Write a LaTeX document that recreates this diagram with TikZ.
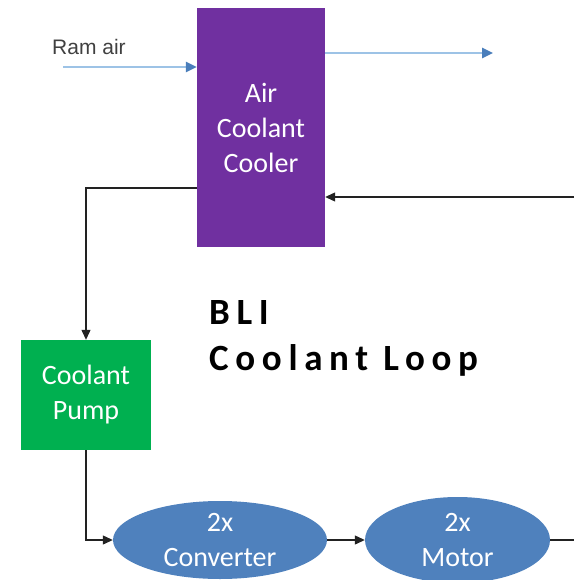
\documentclass[tikz,border=0pt]{standalone}
\usepackage{fontspec}
\setmainfont{Carlito}
\newfontfamily\ramfont{Liberation Sans}
\usetikzlibrary{arrows.meta,shapes.geometric}
\definecolor{coolpurple}{HTML}{7030A0}
\definecolor{pumpgreen}{HTML}{00B050}
\definecolor{elblue}{HTML}{4F81BD}
\definecolor{airline}{HTML}{9DC3E6}
\definecolor{airtip}{HTML}{4A7EBB}
\definecolor{txtgray}{HTML}{404040}
\definecolor{wire}{HTML}{222222}
\begin{document}
\begin{tikzpicture}[x=1pt,y=-1pt,
  boxtext/.style={text=white,align=center,font=\fontsize{28}{35}\selectfont,inner sep=0pt},
  coolerbox/.style={boxtext,rectangle,fill=coolpurple,minimum width=128pt,minimum height=239pt},
  pumpbox/.style={boxtext,rectangle,fill=pumpgreen,minimum width=130pt,minimum height=110pt},
  unit/.style={boxtext,ellipse,fill=elblue},
  wireline/.style={draw=wire,line width=1.2pt,-{Triangle[length=10pt,width=9pt]}},
  airflow/.style={draw=airline,line width=2.6pt,-{Triangle[length=11pt,width=10pt,color=airtip]}}]
\useasboundingbox (0,0) rectangle (574,580);
\node[coolerbox] (cooler) at (261,127.5) {Air\\Coolant\\Cooler};
\node[pumpbox] (pump) at (86,395) {Coolant\\Pump};
\node[unit,minimum width=214pt,minimum height=78pt] (conv) at (220,540) {2x\\Converter};
\node[unit,minimum width=185pt,minimum height=86pt] (motor) at (457.5,540) {2x\\Motor};
\node[anchor=west,inner sep=0pt,text=txtgray,font=\ramfont\fontsize{21}{25}\selectfont] (ram) at (52,47) {Ram air};
\node[anchor=west,inner sep=0pt,align=left,font=\bfseries\fontsize{37}{46}\selectfont\addfontfeature{LetterSpace=18}] (title) at (209,338) {BLI\\Coolant Loop};
\coordinate (ramstart) at (63,67);
\coordinate (outend) at (493,53);
\coordinate (retstart) at (574,197);
\coordinate (motorout) at (574,540);
\coordinate (coolout) at (0,188);
\draw[airflow] (ramstart) -- (ramstart -| cooler.west);
\draw[airflow] (outend -| cooler.east) -- (outend);
\draw[wireline] (retstart) -- (retstart -| cooler.east);
\draw[wireline] (coolout -| cooler.west) -| (pump.north);
\draw[wireline] (pump.south) |- (conv.west);
\draw[wireline] (conv.east) -- (motor.west);
\draw[draw=wire,line width=1.2pt] (motor.east) -- (motorout);
\end{tikzpicture}
\end{document}
